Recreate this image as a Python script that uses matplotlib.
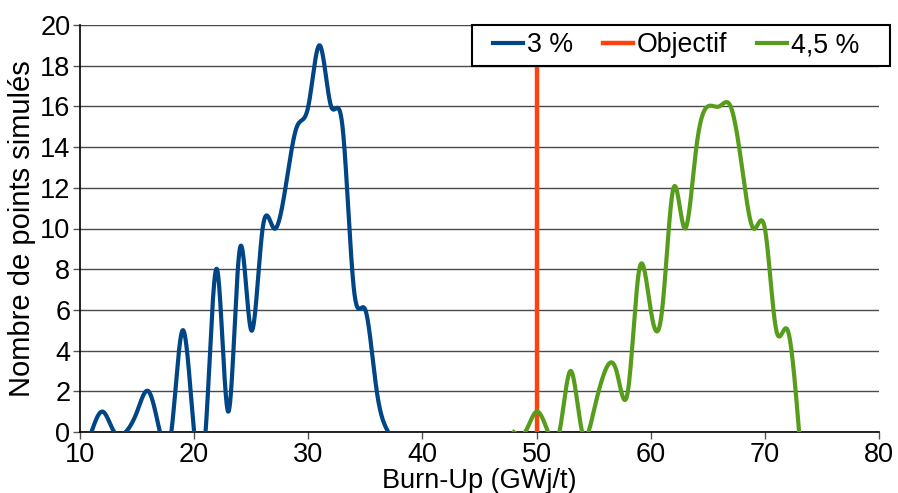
import numpy as np
import matplotlib
matplotlib.use("Agg")
import matplotlib.pyplot as plt
from matplotlib.patches import Rectangle

# ---- data ----
x_3 = [11, 12, 13, 14, 15, 16, 17, 18, 19, 20, 21, 22, 23, 24, 25, 26, 27, 28,
       29, 30, 31, 32, 33, 34, 35, 36, 37]
y_3 = [0, 1, 0, 0, 1, 2, 0, 0, 5, 0, 0, 8, 1, 9, 5, 10, 10, 12,
       15, 16, 19, 16, 15, 7, 6, 2, 0]

x_45 = [48, 49, 50, 51, 52, 53, 54, 55, 56, 57, 58, 59, 60, 61, 62, 63, 64, 65,
        66, 67, 68, 69, 70, 71, 72, 73]
y_45 = [0, 0, 1, 0, 0, 3, 0, 1, 3, 3, 2, 8, 6, 6, 12, 10, 14, 16,
        16, 16, 13, 10, 10, 5, 5, 0]

x_obj = [50, 50]
y_obj = [0, 20]

labels = ["3 %", "Objectif", "4,5 %"]
x_ticks = [10, 20, 30, 40, 50, 60, 70, 80]
y_ticks = [0, 2, 4, 6, 8, 10, 12, 14, 16, 18, 20]


def natural_spline(t, v, tt):
    t = np.asarray(t, float); v = np.asarray(v, float)
    n = len(t) - 1
    h = np.diff(t)
    A = np.zeros((n + 1, n + 1))
    b = np.zeros(n + 1)
    A[0, 0] = 1
    A[n, n] = 1
    for i in range(1, n):
        A[i, i - 1] = h[i - 1]
        A[i, i] = 2 * (h[i - 1] + h[i])
        A[i, i + 1] = h[i]
        b[i] = 6 * ((v[i + 1] - v[i]) / h[i] - (v[i] - v[i - 1]) / h[i - 1])
    M = np.linalg.solve(A, b)
    idx = np.clip(np.searchsorted(t, tt, side="right") - 1, 0, n - 1)
    t0 = t[idx]; t1 = t[idx + 1]; hh = h[idx]
    return (M[idx] * (t1 - tt) ** 3 / (6 * hh) + M[idx + 1] * (tt - t0) ** 3 / (6 * hh)
            + (v[idx] / hh - M[idx] * hh / 6) * (t1 - tt)
            + (v[idx + 1] / hh - M[idx + 1] * hh / 6) * (tt - t0))


def smooth(x, y, res=40):
    x = np.asarray(x, float)
    xx = np.concatenate([np.linspace(x[i], x[i + 1], res, endpoint=False)
                         for i in range(len(x) - 1)] + [[x[-1]]])
    return xx, natural_spline(x, y, xx)


plt.rcParams["font.family"] = ["Liberation Sans", "DejaVu Sans"]
fs = 19.5
W, H = 898, 493

fig = plt.figure(figsize=(8.98, 4.93), dpi=100)
ax = fig.add_axes([80 / W, 1 - 432 / H, 799 / W, 407 / H])

c_blue = "#004586"
c_red = "#ff420e"
c_green = "#579d1c"

sx, sy = smooth(x_3, y_3)
l1, = ax.plot(sx, sy, color=c_blue, lw=3.0, zorder=3)
l2, = ax.plot(x_obj, y_obj, color=c_red, lw=3.2, zorder=3)
gx, gy = smooth(x_45, y_45)
l3, = ax.plot(gx, gy, color=c_green, lw=3.0, zorder=3)

ax.set_xlim(10, 80)
ax.set_ylim(0, 20)
ax.set_xticks(x_ticks)
ax.set_yticks(y_ticks)
ax.yaxis.grid(True, color="#4a4a4a", lw=1.0)
ax.set_axisbelow(True)
for s in ["top", "right"]:
    ax.spines[s].set_visible(False)
for s in ["left", "bottom"]:
    ax.spines[s].set_color("#000000")
    ax.spines[s].set_linewidth(1.2)
ax.tick_params(axis="both", direction="out", length=5, width=1, color="#555555",
               labelsize=fs, pad=2)
ax.set_xlabel("Burn-Up (GWj/t)", fontsize=fs, labelpad=0)
ax.set_ylabel("Nombre de points simulés", fontsize=21, labelpad=3)

# legend frame
frame = Rectangle((472 / W, 1 - 66 / H), 418 / W, 41 / H, transform=fig.transFigure,
                  facecolor="white", edgecolor="black", lw=1.5, zorder=5)
fig.add_artist(frame)
leg = fig.legend([l1, l2, l3], labels, ncol=3, loc="center left",
                 bbox_to_anchor=(493 / W, 1 - 66 / H, 366 / W, 41 / H),
                 mode="expand", fontsize=19.3, frameon=False, borderaxespad=0,
                 handlelength=1.12, handletextpad=0.15, columnspacing=1.1, borderpad=0)
leg.set_zorder(6)

fig.savefig("out.png", dpi=100)
